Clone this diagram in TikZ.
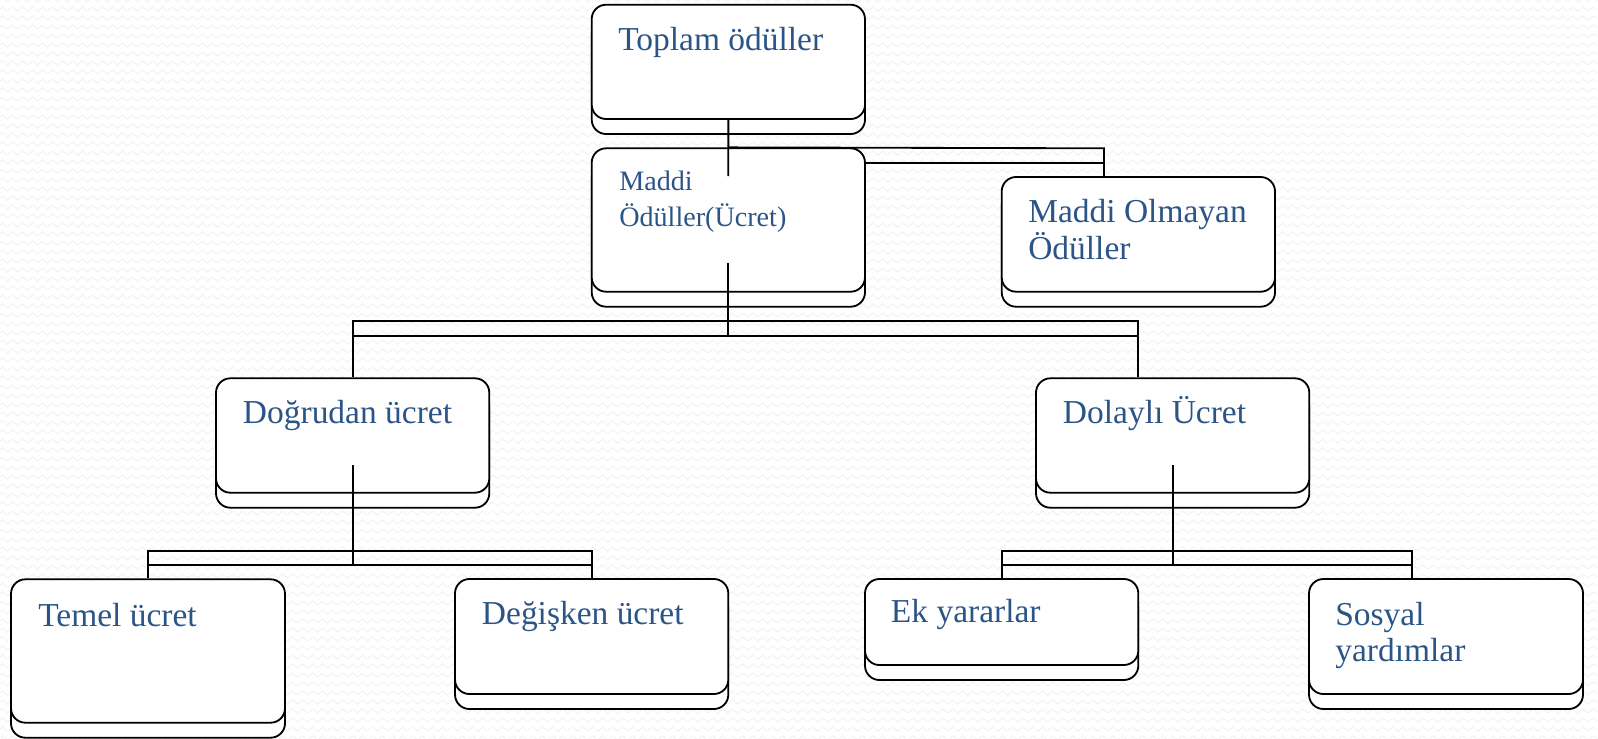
\documentclass[tikz,border=0pt]{standalone}
\usepackage{fontspec}
\setmainfont{Liberation Serif}
\usetikzlibrary{fit,shadows,decorations.pathmorphing}
\definecolor{yazirenk}{RGB}{44,85,135}
\pgfdeclarelayer{background}
\pgfsetlayers{background,main}
\begin{document}
\begin{tikzpicture}[x=0.025cm, y=-0.025cm,
    kutu/.style={draw, fill=white, line width=1.3pt, rounded corners=0.36cm, inner sep=0pt,
      general shadow={shadow xshift=0cm, shadow yshift=-0.375cm, fill=white, draw=black, line width=1.3pt}},
    yazi/.style={text=yazirenk, inner sep=0pt, anchor=base west, align=left,
      font=\fontsize{23.8}{26.1}\selectfont},
    kucukyazi/.style={yazi, font=\fontsize{20}{26.1}\selectfont},
    bag/.style={line width=1.3pt},
    zemin/.style={black!5, line width=0.6pt, decorate,
      decoration={zigzag, segment length=0.25cm, amplitude=0.05cm}}]
    \useasboundingbox (0,0) rectangle (1598,738);

    % Boxes
    \node[kutu, fit={(591.7,4.7) (865,119)}] (toplam) {};
    \node[kutu, fit={(591.7,148.3) (865,291.7)}] (maddi) {};
    \node[kutu, fit={(1001.7,177) (1275,291.7)}] (olmayan) {};
    \node[kutu, fit={(216,378.3) (489.3,492.7)}] (dogrudan) {};
    \node[kutu, fit={(1036,378.3) (1309.3,492.7)}] (dolayli) {};
    \node[kutu, fit={(11,579.3) (285,722.7)}] (temel) {};
    \node[kutu, fit={(455,579) (728.3,694)}] (degisken) {};
    \node[kutu, fit={(865,579) (1138.3,665)}] (ek) {};
    \node[kutu, fit={(1309,579) (1583,694)}] (sosyal) {};

    % Texts (multi-line ones sit on their last baseline)
    \node[yazi] (toplam-y) at (618,50) {Toplam ödüller};
    \node[kucukyazi] (maddi-y) at (619,226.7) {Maddi\\Ödüller(Ücret)};
    \node[yazi] (olmayan-y) at (1028,259.3) {Maddi Olmayan\\Ödüller};
    \node[yazi] (dogrudan-y) at (242.7,423.3) {Doğrudan ücret};
    \node[yazi] (dolayli-y) at (1062.7,423.3) {Dolaylı Ücret};
    \node[yazi] (temel-y) at (38,626.7) {Temel ücret};
    \node[yazi] (degisken-y) at (481.7,624) {Değişken ücret};
    \node[yazi] (ek-y) at (890.7,622.7) {Ek yararlar};
    \node[yazi] (sosyal-y) at (1335,661.7) {Sosyal\\yardımlar};

    % Bar points
    \coordinate (b1) at (1104,148.3);
    \coordinate (b1alt) at (728.3,163.3);
    \coordinate (b2) at (728.3,320.7);
    \coordinate (b2r) at (1138.3,320.7);
    \coordinate (b2alt) at (728.3,335.7);
    \coordinate (b3) at (352.7,550.7);
    \coordinate (b3alt) at (352.7,565);
    \coordinate (b4r) at (1411.7,550.7);
    \coordinate (b4alt) at (1172.7,565);
    % Stem points
    \coordinate (s1) at (728.3,176);
    \coordinate (s2) at (728.3,263);
    \coordinate (s3) at (352.7,465);
    \coordinate (s4) at (1172.7,465);

    \begin{pgfonlayer}{background}
      % Background pattern
      \fill[white] (0,0) rectangle (1598,738);
      \foreach \r in {0,...,82} {
        \draw[zemin] (0,\r*9) -- (1598,\r*9);
      }
      % Double bars
      \draw[bag] (maddi.north) -- (b1) -- (b1 |- olmayan.north);
      \draw[bag] (b1alt) -- (b1 |- b1alt);
      \draw[bag] (dogrudan.north) |- (b2r) -- (b2r |- dolayli.north);
      \draw[bag] (dogrudan.north |- b2alt) -- (b2r |- b2alt);
      \draw[bag] (temel.north) |- (b3) -| (degisken.north);
      \draw[bag] (temel.north |- b3alt) -- (degisken.north |- b3alt);
      \draw[bag] (ek.north) |- (b4r) -- (b4r |- sosyal.north);
      \draw[bag] (ek.north |- b4alt) -- (b4r |- b4alt);
    \end{pgfonlayer}

    % Stems
    \draw[bag] (toplam.south) -- (s1);
    \draw[bag] (s2) -- (b2alt);
    \draw[bag] (s3) -- (b3alt);
    \draw[bag] (s4) -- (b4alt);
  \end{tikzpicture}
\end{document}
